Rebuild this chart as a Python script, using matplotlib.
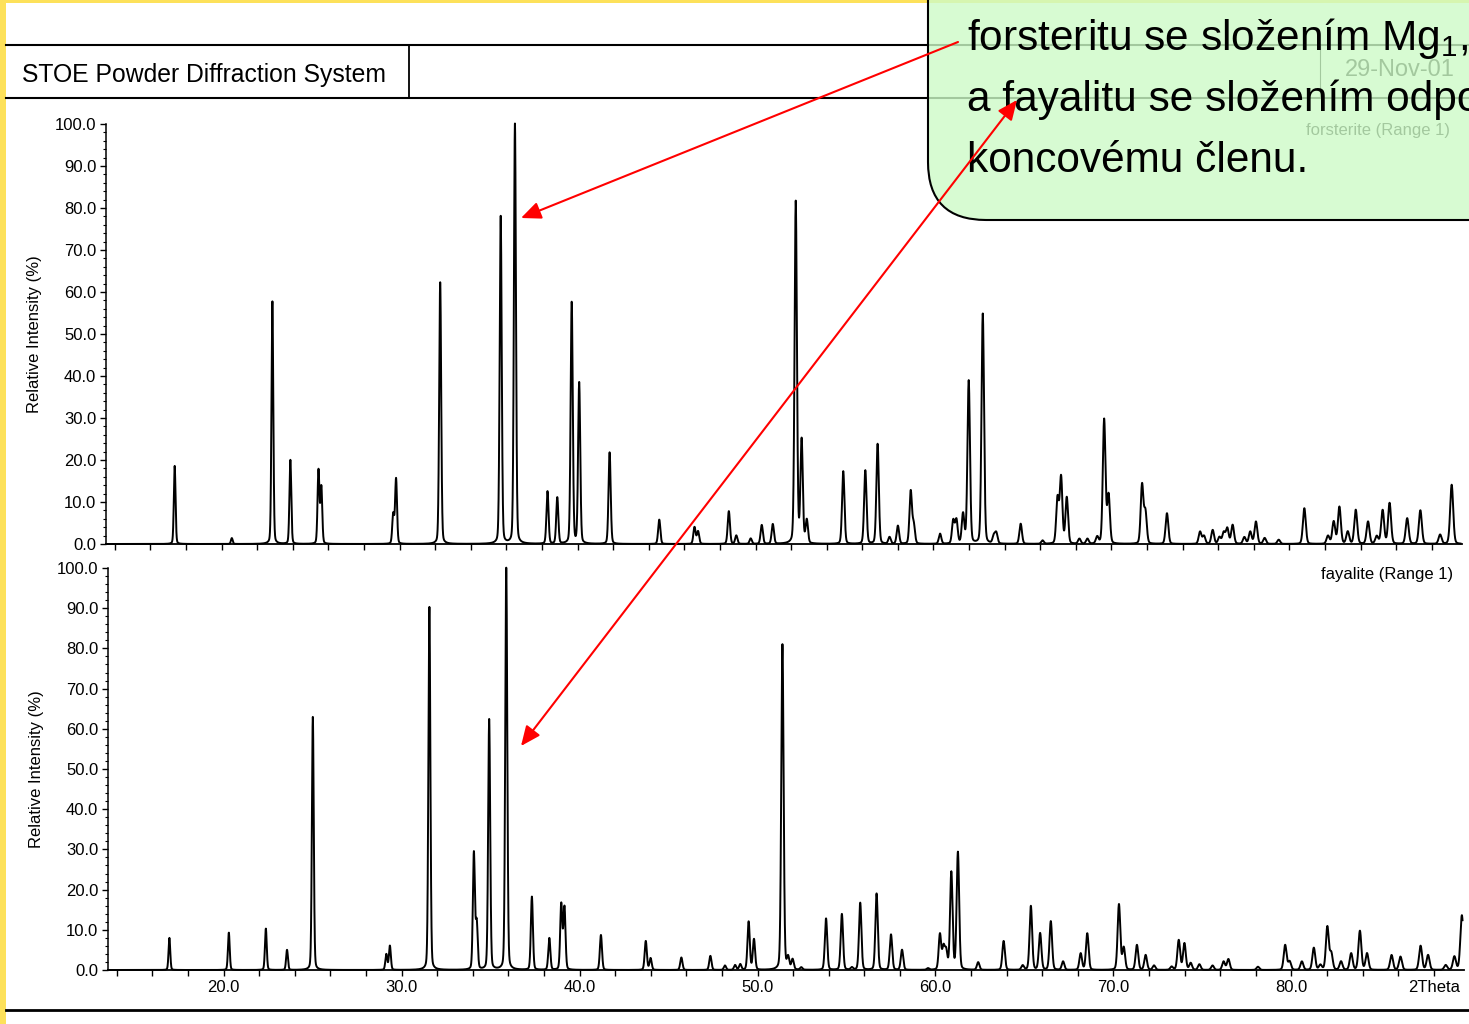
import numpy as np
import matplotlib.pyplot as plt
from matplotlib.patches import FancyBboxPatch, Rectangle

plt.rcParams['font.family'] = ['Liberation Sans', 'DejaVu Sans']
plt.rcParams['mathtext.fontset'] = 'custom'
plt.rcParams['mathtext.rm'] = 'Liberation Sans'

W, H = 1469, 1024

# forsterite reflections: 2theta (deg) and relative intensity (%)
fo_pos = [17.36, 20.57, 22.85, 23.86, 25.44, 25.60, 29.64, 29.80, 32.28, 35.68,
          36.48, 38.31, 38.86, 39.67, 40.09, 41.80, 44.59, 46.57, 46.77, 48.50,
          48.92, 49.73, 50.35, 50.97, 52.26, 52.59, 52.88, 54.93, 56.17, 56.86,
          57.53, 58.00, 58.72, 58.89, 60.37, 61.11, 61.29, 61.66, 61.98, 62.77,
          63.39, 63.53, 64.90, 66.13, 66.97, 67.17, 67.49, 68.20, 68.65, 69.20,
          69.59, 69.84, 71.72, 71.91, 73.12, 74.98, 75.20, 75.69, 76.07, 76.31,
          76.51, 76.81, 77.47, 77.80, 78.12, 78.61, 79.40, 80.84, 82.17, 82.49,
          82.81, 83.28, 83.73, 84.42, 84.91, 85.24, 85.63, 86.62, 87.36, 88.47,
          89.12]
fo_int = [18.6, 1.4, 57.8, 20.0, 17.5, 13.5, 7.0, 15.5, 62.3, 78.0,
          100.0, 12.5, 11.0, 57.5, 38.3, 21.8, 5.8, 4.0, 3.0, 7.8,
          2.0, 1.3, 4.5, 4.7, 81.5, 24.5, 5.5, 17.3, 17.5, 23.8,
          1.6, 4.3, 12.5, 4.5, 2.4, 5.5, 5.6, 7.0, 38.8, 54.8,
          1.8, 2.5, 4.8, 0.8, 10.8, 15.8, 11.0, 1.2, 1.2, 1.6,
          29.6, 11.5, 14.0, 7.5, 7.3, 2.9, 1.9, 3.3, 1.6, 2.7,
          3.7, 4.5, 1.6, 2.9, 5.3, 1.4, 1.0, 8.5, 1.9, 5.3,
          8.8, 2.9, 8.1, 5.3, 1.8, 8.0, 9.7, 6.1, 8.0, 2.2,
          14.1]

# fayalite reflections
fa_pos = [16.95, 20.29, 22.37, 23.56, 25.01, 29.14, 29.34, 31.56, 34.06, 34.22,
          34.92, 35.88, 37.32, 38.30, 38.97, 39.15, 41.20, 43.72, 43.99, 45.72,
          47.35, 48.17, 48.74, 49.03, 49.50, 49.80, 51.40, 51.72, 51.97, 52.46,
          53.85, 54.74, 55.30, 55.77, 56.69, 57.50, 58.12, 59.58, 60.25, 60.45,
          60.60, 60.89, 61.26, 62.40, 63.83, 64.90, 65.36, 65.88, 66.48, 67.17,
          68.16, 68.53, 70.31, 70.58, 71.32, 71.81, 72.28, 73.27, 73.67, 73.99,
          74.34, 74.83, 75.57, 76.19, 76.46, 78.12, 79.65, 79.90, 80.59, 81.26,
          81.63, 82.02, 82.24, 82.79, 83.36, 83.85, 84.25, 85.63, 86.13, 87.26,
          87.68, 88.67, 89.16, 89.58]
fa_int = [8.0, 9.3, 10.3, 5.0, 63.0, 3.9, 6.0, 90.3, 29.0, 11.5,
          62.3, 100.0, 18.2, 7.9, 16.3, 15.5, 8.7, 7.2, 2.9, 3.1,
          3.5, 1.1, 1.2, 1.4, 12.0, 7.6, 81.0, 2.9, 2.5, 0.6,
          12.8, 13.9, 0.6, 16.7, 19.0, 8.8, 5.0, 0.4, 8.8, 5.4,
          4.5, 24.2, 29.2, 1.9, 7.2, 1.1, 15.9, 9.1, 12.1, 2.1,
          4.1, 9.1, 16.3, 5.5, 6.2, 3.7, 1.1, 0.8, 7.4, 6.6,
          1.7, 1.4, 1.1, 2.1, 2.7, 0.8, 6.2, 2.1, 2.1, 5.5,
          1.2, 10.7, 4.1, 2.1, 4.1, 9.7, 4.1, 3.7, 3.3, 6.0,
          3.7, 1.2, 3.3, 13.6]

x_tick_vals = list(range(14, 90, 2))
x_tick_text = {20: '20.0', 30: '30.0', 40: '40.0', 50: '50.0',
               60: '60.0', 70: '70.0', 80: '80.0', 88: '2Theta'}
y_tick_vals = list(range(0, 101, 10))

tt = np.arange(13.5, 89.62, 0.004)


def profile(pos, inten):
    y = np.zeros_like(tt)
    for p, h in zip(pos, inten):
        w = 0.11 + 0.0012 * (p - 15)
        d = (tt - p) / w
        y += h * (0.82 * np.exp(-4 * np.log(2) * d ** 2) + 0.18 / (1 + 4 * d ** 2))
    return y


def style_axes(ax, show_labels):
    for s in ['top', 'right']:
        ax.spines[s].set_visible(False)
    ax.spines['left'].set_linewidth(1.1)
    ax.spines['bottom'].set_linewidth(1.3)
    ax.set_xlim(13.5, 89.7)
    ax.set_ylim(0, 100)
    ax.set_yticks(y_tick_vals)
    ax.set_yticklabels(['%.1f' % v for v in y_tick_vals])
    ax.set_yticks(np.arange(0, 101, 2), minor=True)
    ax.set_xticks(x_tick_vals)
    if show_labels:
        ax.set_xticklabels([x_tick_text.get(v, '') for v in x_tick_vals])
    else:
        ax.set_xticklabels([])
    ax.tick_params(axis='both', which='major', direction='out', length=4.5,
                   width=1, labelsize=12, pad=2.5, colors='black')
    ax.tick_params(axis='y', which='minor', direction='out', length=2.5, width=0.8)
    ax.set_ylabel('Relative Intensity (%)', fontsize=12)
    ax.yaxis.set_label_coords(-0.047, 0.5)
    ax.patch.set_visible(False)


fig = plt.figure(figsize=(W / 100, H / 100), dpi=100)

ax_top = fig.add_axes([106 / W, 1 - 544 / H, 1356 / W, 420 / H])
ax_top.plot(tt, profile(fo_pos, fo_int), color='black', lw=1.4, clip_on=False)
style_axes(ax_top, False)

ax_bot = fig.add_axes([108 / W, 1 - 970 / H, 1356 / W, 402 / H])
ax_bot.plot(tt, profile(fa_pos, fa_int), color='black', lw=1.4, clip_on=False)
style_axes(ax_bot, True)

# page furniture, callout and arrows in pixel coordinates
ov = fig.add_axes([0, 0, 1, 1], zorder=10)
ov.set_xlim(0, W)
ov.set_ylim(H, 0)
ov.axis('off')

yellow = '#fde15a'
ov.add_patch(Rectangle((0, 0), 6, H, color=yellow, lw=0, zorder=1))
ov.add_patch(Rectangle((0, 0), W, 3, color=yellow, lw=0, zorder=1))

ov.plot([6, W], [45, 45], color='black', lw=1.5, zorder=2)
ov.plot([6, W], [98, 98], color='black', lw=1.5, zorder=2)
ov.plot([409, 409], [45, 98], color='black', lw=1.3, zorder=2)
ov.plot([1320, 1320], [45, 98], color='black', lw=0.8, zorder=2)
ov.plot([6, W], [1010, 1010], color='black', lw=2, zorder=2)

ov.text(22, 75, 'STOE Powder Diffraction System', fontsize=17.8, va='center',
        ha='left', zorder=2)
ov.text(1455, 70, '29-Nov-01', fontsize=17, va='center', ha='right', zorder=2)
ov.text(1450, 131, 'forsterite (Range 1)', fontsize=12, va='center', ha='right',
        zorder=2)
ov.text(1453, 575, 'fayalite (Range 1)', fontsize=12, va='center', ha='right',
        zorder=2)

box = FancyBboxPatch((928, -120), 700, 340,
                     boxstyle='round,pad=0,rounding_size=58',
                     fc=(205 / 255, 251 / 255, 199 / 255, 0.8), ec='black',
                     lw=1.5, zorder=5)
ov.add_patch(box)

callout = ['forsteritu se složením Mg$_{\\mathregular{1}}$,',
           'a fayalitu se složením odpo',
           'koncovému členu.']
for i, line in enumerate(callout):
    ov.text(967, 50 + 61 * i, line, fontsize=30.5, va='baseline', ha='left',
            zorder=6)

red = '#ff0000'
ov.annotate('', xy=(521, 218), xytext=(958, 42), zorder=7,
            arrowprops=dict(arrowstyle='-|>,head_length=0.8,head_width=0.35',
                            color=red, lw=1.5, mutation_scale=15,
                            shrinkA=0, shrinkB=0))
ov.annotate('', xy=(521, 746), xytext=(1017, 100), zorder=7,
            arrowprops=dict(arrowstyle='<|-|>,head_length=0.8,head_width=0.35',
                            color=red, lw=1.5, mutation_scale=15,
                            shrinkA=0, shrinkB=0))

fig.savefig('out.png', dpi=100)
